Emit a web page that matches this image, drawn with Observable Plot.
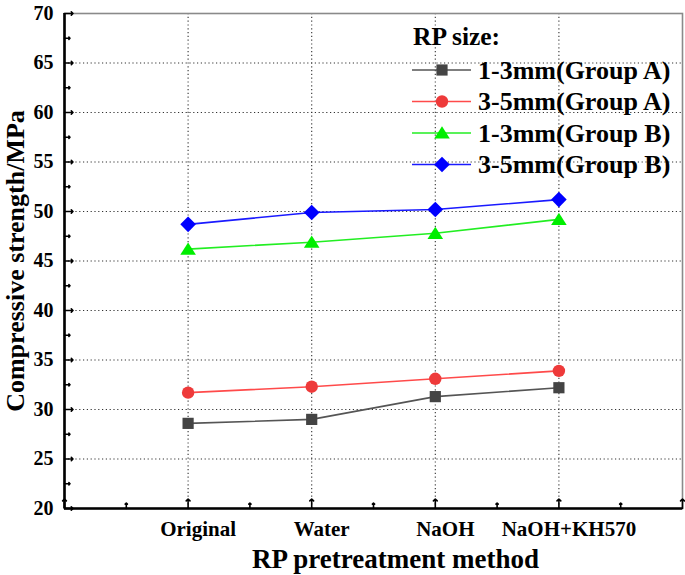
<!DOCTYPE html>
<html><head><meta charset="utf-8">
<script src="https://cdn.jsdelivr.net/npm/d3@7"></script>
<script src="https://cdn.jsdelivr.net/npm/@observablehq/plot@0.6"></script>
<style>
body{margin:0;background:#fff;}
#wrap{width:685px;height:575px;}
</style></head><body><div id="wrap"></div>
<script>
// ---- data ----
const methods = ["Original", "Water", "NaOH", "NaOH+KH570"];
const seriesNames = ["1-3mm(Group A)", "3-5mm(Group A)", "1-3mm(Group B)", "3-5mm(Group B)"];
const a13 = [28.6, 29.0, 31.3, 32.2];
const a35 = [31.7, 32.3, 33.1, 33.9];
const b13 = [46.2, 46.9, 47.8, 49.2];
const b35 = [48.7, 49.9, 50.2, 51.2];
const yTicks = [20, 25, 30, 35, 40, 45, 50, 55, 60, 65, 70];
const legendTitle = "RP size:";
const xTitle = "RP pretreatment method";
const yTitle = "Compressive strength/MPa";

// ---- styling ----
const lineColors = ["#555555", "#ff4a4a", "#22ee22", "#1a1aff"];
const fillColors = ["#444444", "#ee3a3a", "#00ee00", "#0000ff"];
const FONT = "'Liberation Serif', 'Times New Roman', serif";

const rad = size => Math.sqrt(size / Math.PI);
const symSquare = {draw(c, s) { const r = rad(s); c.rect(-r, -r, 2 * r, 2 * r); }};
const symCircle = {draw(c, s) { const r = rad(s); c.moveTo(r, 0); c.arc(0, 0, r, 0, 2 * Math.PI); }};
const symTri = {draw(c, s) { const r = rad(s); c.moveTo(0, -0.85 * r); c.lineTo(r, 0.72 * r); c.lineTo(-r, 0.72 * r); c.closePath(); }};
const symDiamond = {draw(c, s) { const r = rad(s); c.moveTo(0, -r); c.lineTo(r, 0); c.lineTo(0, r); c.lineTo(-r, 0); c.closePath(); }};
const symbols = [symSquare, symCircle, symTri, symDiamond];
const symR = [5.6, 6.2, 7.8, 7.8];

const seriesValues = [a13, a35, b13, b35];
const rows = seriesValues.map((vals, s) => vals.map((v, i) => ({series: seriesNames[s], s, x: i + 1, method: methods[i], y: v})));

const xMajor = d3.range(0, methods.length + 2);
const xMinor = xMajor.slice(0, -1).map(d => d + 0.5);
const yMinor = yTicks.slice(0, -1).map(d => d + 2.5);

const marks = [
  Plot.gridY(yTicks.slice(1, -1), {stroke: "#333", strokeOpacity: 1, strokeDasharray: "1.2,2.6", strokeWidth: 1.1}),
  Plot.gridX(methods.map((m, i) => i + 1), {stroke: "#333", strokeOpacity: 1, strokeDasharray: "1.2,2.6", strokeWidth: 1.1}),
  Plot.frame({stroke: "#8a8a8a", strokeWidth: 1.6}),
  Plot.ruleY([yTicks[0]], {stroke: "black", strokeWidth: 2.6}),
  Plot.ruleX([0], {stroke: "black", strokeWidth: 2.6}),
  Plot.vector(yTicks, {y: d => d, frameAnchor: "left", length: 8.5, rotate: 90, anchor: "start", stroke: "black", strokeWidth: 1.6}),
  Plot.vector(yMinor, {y: d => d, frameAnchor: "left", length: 5.5, rotate: 90, anchor: "start", stroke: "black", strokeWidth: 1.6}),
  Plot.vector(xMajor, {x: d => d, frameAnchor: "bottom", length: 9.5, rotate: 0, anchor: "start", stroke: "black", strokeWidth: 1.6}),
  Plot.vector(xMinor, {x: d => d, frameAnchor: "bottom", length: 5.5, rotate: 0, anchor: "start", stroke: "black", strokeWidth: 1.6}),
];
rows.forEach((r, s) => {
  marks.push(Plot.line(r, {x: "x", y: "y", stroke: lineColors[s], strokeWidth: 1.6}));
});
rows.forEach((r, s) => {
  marks.push(Plot.dot(r, {x: "x", y: "y", symbol: symbols[s], r: symR[s], fill: fillColors[s], stroke: "none"}));
});
marks.push(
  Plot.axisY({ticks: yTicks, tickSize: 0, tickPadding: 11, fontSize: 20, label: null}),
  Plot.axisX({ticks: methods.map((m, i) => i + 1), tickFormat: i => methods[i - 1], tickSize: 0, tickPadding: 13, dx: 10, fontSize: 21, label: null}),
  Plot.text([yTitle], {frameAnchor: "left", textAnchor: "middle", lineAnchor: "middle", rotate: -90, dx: -49, fontSize: 26, fontWeight: "bold", fill: "black"}),
  Plot.text([xTitle], {frameAnchor: "bottom", textAnchor: "middle", lineAnchor: "middle", dx: 22, dy: 51, fontSize: 27, fontWeight: "bold", fill: "black"})
);

const chart = Plot.plot({
  width: 685,
  height: 575,
  marginLeft: 64,
  marginRight: 3,
  marginTop: 13,
  marginBottom: 67,
  x: {type: "linear", domain: [0, methods.length + 1]},
  y: {domain: [yTicks[0], yTicks[yTicks.length - 1]]},
  style: {fontFamily: FONT, fontWeight: "bold", color: "black", background: "white", overflow: "visible"},
  marks
});
document.getElementById("wrap").appendChild(chart);

// ---- legend (inside plot area, top right) ----
const svg = d3.select(chart.tagName.toLowerCase() === "svg" ? chart : chart.querySelector("svg"));
const lg = svg.append("g").attr("font-family", FONT).attr("font-weight", "bold").attr("text-anchor", "start");
lg.append("text").attr("x", 413).attr("y", 45).attr("font-size", 25.5).attr("fill", "black").text(legendTitle);
const rowY = [70, 101.5, 133, 164.5];
seriesNames.forEach((name, s) => {
  const cy = rowY[s];
  lg.append("line").attr("x1", 412).attr("x2", 471).attr("y1", cy).attr("y2", cy).attr("stroke", lineColors[s]).attr("stroke-width", 1.6);
  lg.append("path").attr("transform", `translate(442,${cy})`).attr("d", d3.symbol(symbols[s], symR[s] * symR[s] * Math.PI)()).attr("fill", fillColors[s]);
  lg.append("text").attr("x", 478).attr("y", cy + 8.5).attr("font-size", 26).attr("fill", "black").text(name);
});
</script></body></html>
